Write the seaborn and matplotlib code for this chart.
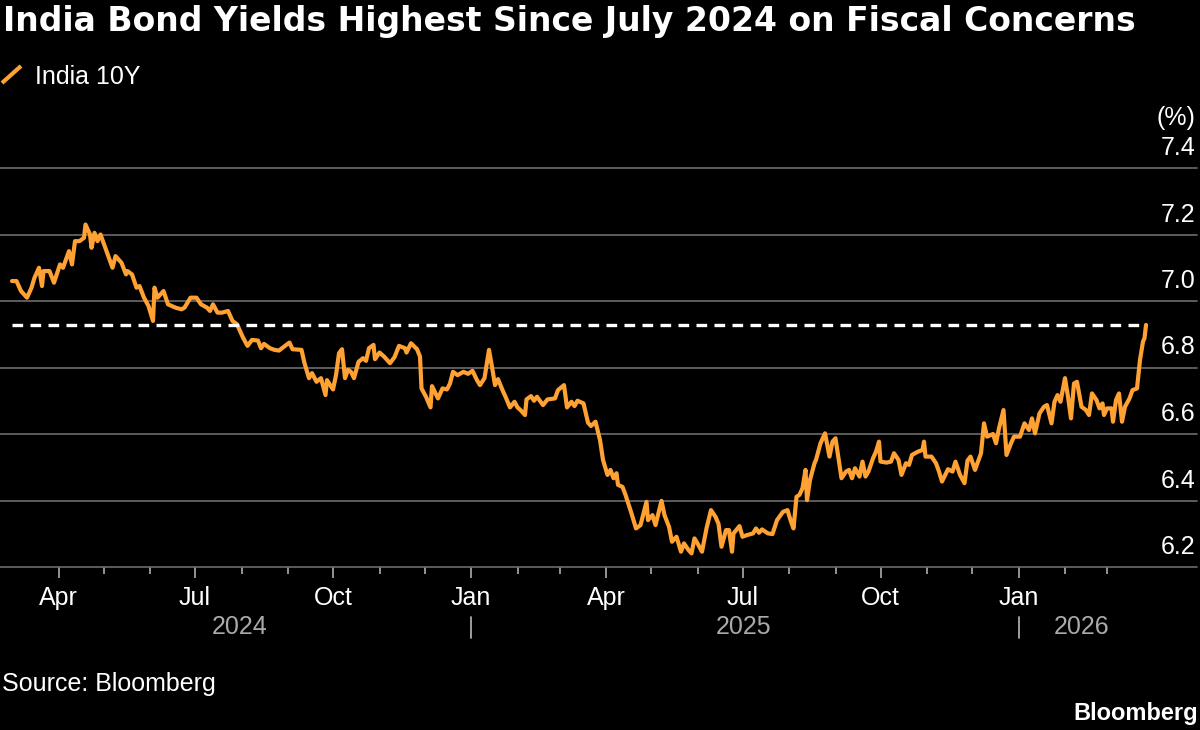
import matplotlib
matplotlib.use("Agg")
import matplotlib.pyplot as plt
import matplotlib.dates as mdates
import matplotlib.ticker as mticker
import matplotlib.transforms as mtrans
from matplotlib.lines import Line2D
import seaborn as sns
import pandas as pd

# India 10Y yield (%)
dates = [
    "2024-03-01", "2024-03-04", "2024-03-07", "2024-03-11", "2024-03-14", "2024-03-16",
    "2024-03-19", "2024-03-21", "2024-03-22", "2024-03-26", "2024-03-29", "2024-04-02",
    "2024-04-04", "2024-04-08", "2024-04-10", "2024-04-12", "2024-04-15", "2024-04-18",
    "2024-04-19", "2024-04-22", "2024-04-23", "2024-04-25", "2024-04-27", "2024-04-29",
    "2024-05-03", "2024-05-07", "2024-05-09", "2024-05-13", "2024-05-16", "2024-05-17",
    "2024-05-20", "2024-05-23", "2024-05-25", "2024-05-28", "2024-05-31", "2024-06-03",
    "2024-06-04", "2024-06-06", "2024-06-10", "2024-06-13", "2024-06-18", "2024-06-22",
    "2024-06-24", "2024-06-28", "2024-07-02", "2024-07-05", "2024-07-09", "2024-07-11",
    "2024-07-13", "2024-07-16", "2024-07-19", "2024-07-23", "2024-07-26", "2024-07-29",
    "2024-08-02", "2024-08-05", "2024-08-08", "2024-08-12", "2024-08-14", "2024-08-16",
    "2024-08-20", "2024-08-23", "2024-08-26", "2024-08-30", "2024-09-02", "2024-09-04",
    "2024-09-10", "2024-09-12", "2024-09-15", "2024-09-17", "2024-09-20", "2024-09-23",
    "2024-09-26", "2024-09-27", "2024-10-01", "2024-10-03", "2024-10-05", "2024-10-07",
    "2024-10-09", "2024-10-11", "2024-10-13", "2024-10-15", "2024-10-18", "2024-10-21",
    "2024-10-23", "2024-10-25", "2024-10-28", "2024-10-29", "2024-11-01", "2024-11-04",
    "2024-11-08", "2024-11-11", "2024-11-14", "2024-11-18", "2024-11-19", "2024-11-22",
    "2024-11-26", "2024-11-28", "2024-11-29", "2024-12-02", "2024-12-05", "2024-12-06",
    "2024-12-10", "2024-12-13", "2024-12-16", "2024-12-18", "2024-12-20", "2024-12-23",
    "2024-12-27", "2024-12-30", "2025-01-02", "2025-01-05", "2025-01-07", "2025-01-10",
    "2025-01-13", "2025-01-15", "2025-01-17", "2025-01-19", "2025-01-22", "2025-01-24",
    "2025-01-27", "2025-01-30", "2025-02-01", "2025-02-03", "2025-02-06", "2025-02-07",
    "2025-02-10", "2025-02-12", "2025-02-14", "2025-02-18", "2025-02-21", "2025-02-26",
    "2025-02-28", "2025-03-04", "2025-03-06", "2025-03-09", "2025-03-11", "2025-03-13",
    "2025-03-17", "2025-03-20", "2025-03-22", "2025-03-25", "2025-03-28", "2025-03-30",
    "2025-04-02", "2025-04-04", "2025-04-06", "2025-04-08", "2025-04-09", "2025-04-12",
    "2025-04-14", "2025-04-18", "2025-04-21", "2025-04-24", "2025-04-28", "2025-04-29",
    "2025-05-02", "2025-05-04", "2025-05-08", "2025-05-10", "2025-05-13", "2025-05-15",
    "2025-05-18", "2025-05-21", "2025-05-23", "2025-05-26", "2025-05-28", "2025-05-30",
    "2025-06-01", "2025-06-04", "2025-06-07", "2025-06-10", "2025-06-13", "2025-06-15",
    "2025-06-17", "2025-06-20", "2025-06-22", "2025-06-24", "2025-06-25", "2025-06-29",
    "2025-07-01", "2025-07-04", "2025-07-08", "2025-07-10", "2025-07-12", "2025-07-14",
    "2025-07-18", "2025-07-21", "2025-07-24", "2025-07-28", "2025-07-31", "2025-08-02",
    "2025-08-04", "2025-08-06", "2025-08-08", "2025-08-10", "2025-08-12", "2025-08-13",
    "2025-08-15", "2025-08-18", "2025-08-19", "2025-08-22", "2025-08-25", "2025-08-28",
    "2025-08-30", "2025-09-01", "2025-09-05", "2025-09-08", "2025-09-10", "2025-09-12",
    "2025-09-14", "2025-09-17", "2025-09-19", "2025-09-21", "2025-09-23", "2025-09-26",
    "2025-09-28", "2025-09-30", "2025-10-01", "2025-10-05", "2025-10-08", "2025-10-10",
    "2025-10-13", "2025-10-15", "2025-10-18", "2025-10-20", "2025-10-22", "2025-10-26",
    "2025-10-29", "2025-10-30", "2025-10-31", "2025-11-04", "2025-11-07", "2025-11-09",
    "2025-11-11", "2025-11-15", "2025-11-18", "2025-11-20", "2025-11-23", "2025-11-26",
    "2025-11-28", "2025-11-30", "2025-12-03", "2025-12-05", "2025-12-07", "2025-12-09",
    "2025-12-11", "2025-12-15", "2025-12-17", "2025-12-19", "2025-12-22", "2025-12-24",
    "2025-12-27", "2025-12-29", "2026-01-02", "2026-01-05", "2026-01-08", "2026-01-10",
    "2026-01-12", "2026-01-15", "2026-01-18", "2026-01-20", "2026-01-23", "2026-01-25",
    "2026-01-27", "2026-01-29", "2026-02-01", "2026-02-03", "2026-02-05", "2026-02-07",
    "2026-02-09", "2026-02-12", "2026-02-15", "2026-02-17", "2026-02-19", "2026-02-22",
    "2026-02-24", "2026-02-26", "2026-02-27", "2026-03-01", "2026-03-04", "2026-03-05",
    "2026-03-07", "2026-03-09", "2026-03-11", "2026-03-13", "2026-03-16", "2026-03-18",
    "2026-03-21", "2026-03-23", "2026-03-25", "2026-03-26", "2026-03-27",
]
yields = [
    7.06, 7.06, 7.03, 7.01, 7.04, 7.07,
    7.10, 7.045, 7.09, 7.09, 7.055, 7.11,
    7.10, 7.15, 7.11, 7.18, 7.18, 7.19,
    7.23, 7.20, 7.16, 7.205, 7.18, 7.20,
    7.15, 7.10, 7.135, 7.115, 7.08, 7.09,
    7.08, 7.04, 7.045, 7.01, 6.985, 6.94,
    7.04, 7.01, 7.03, 6.99, 6.98, 6.975,
    6.98, 7.01, 7.01, 6.99, 6.98, 6.97,
    6.99, 6.965, 6.965, 6.97, 6.94, 6.93,
    6.89, 6.865, 6.883, 6.881, 6.858, 6.871,
    6.858, 6.853, 6.851, 6.865, 6.875, 6.855,
    6.853, 6.813, 6.768, 6.783, 6.757, 6.768,
    6.717, 6.762, 6.734, 6.777, 6.843, 6.855,
    6.768, 6.793, 6.787, 6.768, 6.817, 6.828,
    6.820, 6.858, 6.868, 6.825, 6.845, 6.833,
    6.813, 6.831, 6.865, 6.858, 6.845, 6.873,
    6.855, 6.833, 6.737, 6.712, 6.680, 6.744,
    6.707, 6.737, 6.734, 6.752, 6.787, 6.777,
    6.787, 6.781, 6.790, 6.762, 6.747, 6.768,
    6.853, 6.802, 6.747, 6.765, 6.732, 6.712,
    6.680, 6.697, 6.680, 6.672, 6.657, 6.704,
    6.714, 6.700, 6.712, 6.687, 6.704, 6.707,
    6.732, 6.747, 6.680, 6.697, 6.684, 6.700,
    6.692, 6.634, 6.624, 6.637, 6.582, 6.522,
    6.477, 6.492, 6.467, 6.482, 6.447, 6.441,
    6.417, 6.361, 6.316, 6.326, 6.396, 6.341,
    6.356, 6.326, 6.399, 6.356, 6.321, 6.276,
    6.291, 6.246, 6.271, 6.251, 6.241, 6.286,
    6.271, 6.246, 6.316, 6.371, 6.351, 6.330,
    6.261, 6.311, 6.311, 6.246, 6.301, 6.323,
    6.291, 6.296, 6.301, 6.316, 6.303, 6.313,
    6.301, 6.299, 6.341, 6.366, 6.371, 6.341,
    6.316, 6.411, 6.417, 6.437, 6.492, 6.401,
    6.462, 6.512, 6.522, 6.572, 6.602, 6.532,
    6.577, 6.587, 6.467, 6.487, 6.492, 6.467,
    6.497, 6.472, 6.517, 6.472, 6.487, 6.527,
    6.547, 6.577, 6.517, 6.514, 6.517, 6.542,
    6.522, 6.477, 6.512, 6.507, 6.537, 6.547,
    6.552, 6.577, 6.532, 6.532, 6.512, 6.487,
    6.457, 6.494, 6.487, 6.517, 6.477, 6.452,
    6.520, 6.532, 6.492, 6.517, 6.542, 6.632,
    6.592, 6.600, 6.572, 6.617, 6.672, 6.537,
    6.572, 6.592, 6.592, 6.632, 6.612, 6.647,
    6.602, 6.662, 6.682, 6.687, 6.632, 6.697,
    6.717, 6.697, 6.768, 6.712, 6.647, 6.752,
    6.757, 6.682, 6.672, 6.657, 6.722, 6.702,
    6.677, 6.692, 6.657, 6.677, 6.677, 6.637,
    6.702, 6.722, 6.637, 6.682, 6.707, 6.732,
    6.737, 6.823, 6.878, 6.888, 6.928,
]

y_ticks = [6.2, 6.4, 6.6, 6.8, 7.0, 7.2, 7.4]
month_ticks = pd.date_range("2024-04-01", "2026-03-01", freq="MS")
year_labels = ["2024", "2025", "2026"]
year_label_dates = ["2024-07-31", "2025-07-02", "2026-02-12"]
year_breaks = ["2025-01-01", "2026-01-01"]

title = "India Bond Yields Highest Since July 2024 on Fiscal Concerns"
series_name = "India 10Y"

ORANGE = "#ffa133"
GRID = "#6b6b6b"
W, H = 1200, 730

df = pd.DataFrame({"date": pd.to_datetime(dates), "yield": yields})

sns.set_theme(style="white", rc={"axes.facecolor": "black", "figure.facecolor": "black"})
plt.rcParams["font.family"] = ["Liberation Sans", "DejaVu Sans"]

fig = plt.figure(figsize=(12, 7.3), dpi=100, facecolor="black")
ax = fig.add_axes([0, 163 / H, 1197 / W, 399 / H])
ax.set_facecolor("black")

sns.lineplot(data=df, x="date", y="yield", ax=ax, color=ORANGE, lw=3.0, zorder=3)

# dashed line at the latest level
ax.plot([df["date"].iloc[0], df["date"].iloc[-1]], [yields[-1], yields[-1]],
        color="white", lw=2.4, ls=(0, (3.2, 2.2)), zorder=4)

ax.set_xlim(pd.Timestamp("2024-02-22"), pd.Timestamp("2026-04-30"))
ax.set_ylim(y_ticks[0], y_ticks[-1])
ax.set_xlabel("")
ax.set_ylabel("")
for s in ax.spines.values():
    s.set_visible(False)

# y grid + labels sitting above the lines at the right
ax.set_yticks(y_ticks)
ax.tick_params(axis="y", length=0, labelleft=False, labelright=False)
ax.grid(axis="y", color=GRID, lw=1.2)
ax.grid(axis="x", visible=False)
for gl in ax.get_ygridlines():
    gl.set_clip_on(False)
for v in y_ticks:
    ax.annotate(f"{v:.1f}", xy=(1, v), xycoords=("axes fraction", "data"),
                xytext=(-2, 13), textcoords="offset pixels",
                ha="right", va="baseline", fontsize=18, color="white")
ax.annotate("(%)", xy=(1, 1), xycoords="axes fraction", xytext=(-2, 43),
            textcoords="offset pixels", ha="right", va="baseline",
            fontsize=18, color="white")

# month ticks: quarters labelled, every month marked
major = [d for d in month_ticks if d.month in (1, 4, 7, 10)]
ax.xaxis.set_major_locator(mticker.FixedLocator(mdates.date2num(major)))
ax.xaxis.set_major_formatter(mdates.DateFormatter("%b"))
ax.xaxis.set_minor_locator(mticker.FixedLocator(mdates.date2num(month_ticks)))
ax.tick_params(axis="x", which="both", bottom=True, direction="out",
               color="#bbbbbb", width=1.1)
ax.tick_params(axis="x", which="major", length=8, pad=6, labelsize=18, labelcolor="white")
ax.tick_params(axis="x", which="minor", length=5)

# year row
for lab, d in zip(year_labels, year_label_dates):
    ax.annotate(lab, xy=(mdates.date2num(pd.Timestamp(d)), 0),
                xycoords=("data", "axes fraction"), xytext=(0, -67),
                textcoords="offset pixels", ha="center", va="baseline",
                fontsize=18, color="#aaaaaa")
blend = mtrans.blended_transform_factory(ax.transData, ax.transAxes)
for d in year_breaks:
    xb = mdates.date2num(pd.Timestamp(d))
    ax.plot([xb, xb], [-50 / 399, -71 / 399], transform=blend,
            color="#aaaaaa", lw=1.3, clip_on=False)

# title, legend, footer
fig.text(3 / W, 1 - 31 / H, title, fontsize=23.8, fontweight="bold",
         family="DejaVu Sans", va="baseline", ha="left", color="white")
fig.add_artist(Line2D([2 / W, 21 / W], [1 - 83 / H, 1 - 66 / H],
                      color=ORANGE, lw=3, solid_capstyle="butt"))
fig.text(35 / W, 1 - 84 / H, series_name, fontsize=18, va="baseline",
         ha="left", color="white")
fig.text(2 / W, 1 - 691 / H, "Source: Bloomberg", fontsize=18, va="baseline",
         ha="left", color="white")
fig.text(1198 / W, 1 - 720 / H, "Bloomberg", fontsize=17, fontweight="bold",
         va="baseline", ha="right", color="white")

fig.savefig("out.png", dpi=100, facecolor="black")
